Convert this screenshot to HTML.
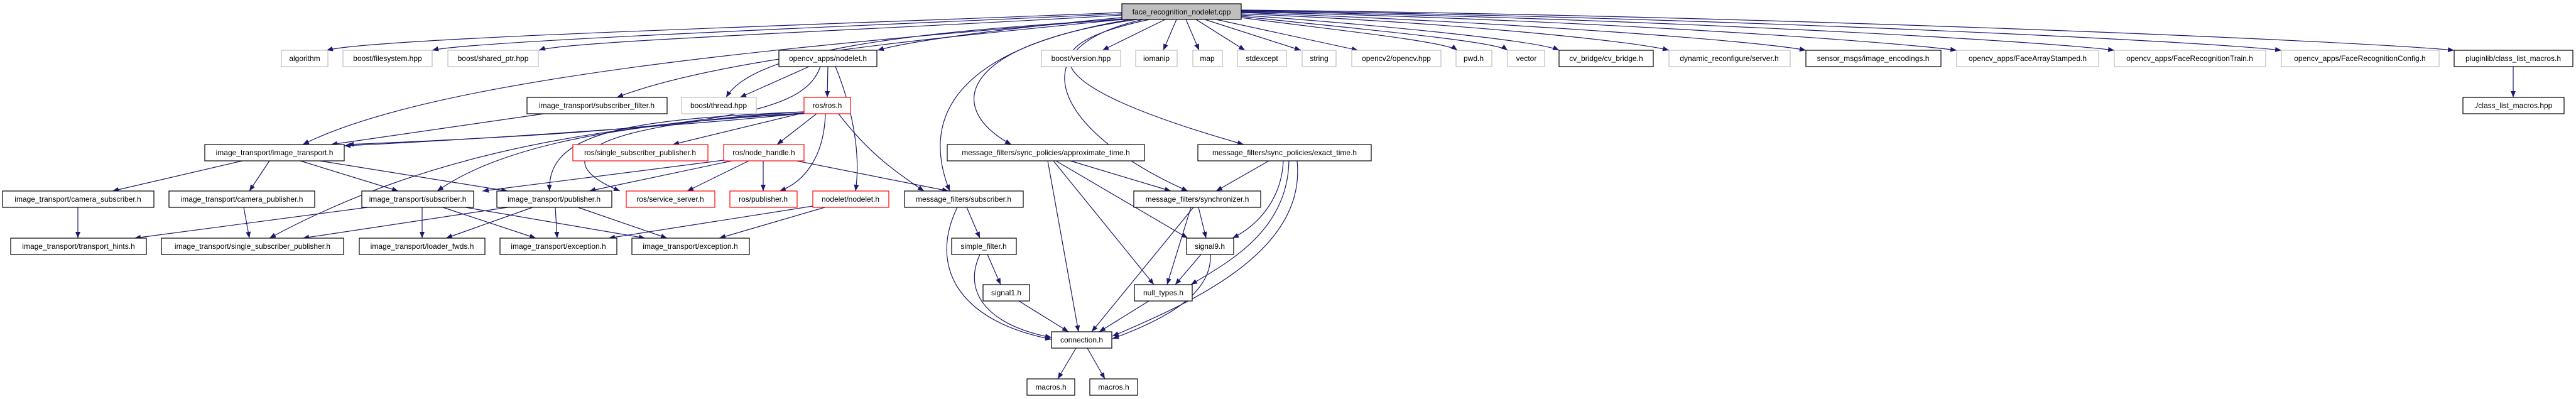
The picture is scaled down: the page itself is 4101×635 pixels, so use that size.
<!DOCTYPE html>
<html><head><meta charset="utf-8"><style>
html,body{margin:0;padding:0;background:#fff;width:4101px;height:635px;overflow:hidden}
svg text{font-family:"Liberation Sans",sans-serif;font-size:12px;text-anchor:middle;fill:#000}
.e{fill:none;stroke:#191970;stroke-width:1.2}
.n{fill:#fff;stroke:#000;stroke-width:1.2}
.g{fill:#fff;stroke:#bfbfbf;stroke-width:1.2}
.r{fill:#fff;stroke:#ff0000;stroke-width:1.2}
</style></head><body>
<svg width="4101" height="635" xmlns="http://www.w3.org/2000/svg">
<defs><marker id="a" markerUnits="userSpaceOnUse" markerWidth="10" markerHeight="8" refX="10" refY="4" orient="auto"><path d="M0,0 L10,4 L0,8 z" fill="#191970"/></marker></defs>
<g class="e" marker-end="url(#a)">
<path d="M1786,20 C1300,40 600,60 520,80"/>
<path d="M1786,22 C1400,40 750,65 688,80"/>
<path d="M1786,24 C1450,45 900,65 858,80"/>
<path d="M1786,28 C1600,45 1450,65 1397,80"/>
<path d="M1786,30 C1300,70 700,120 482,230"/>
<path d="M1786,31 C1500,60 1150,90 982,155"/>
<path d="M1790,31 C1450,50 1200,80 1156,155"/>
<path d="M1800,31 C1500,80 1470,200 1512,304"/>
<path d="M1810,31 C1530,70 1500,170 1610,230"/>
<path d="M1820,31 C1600,80 1700,220 1891,304"/>
<path d="M1830,31 C1600,80 1700,150 1980,230"/>
<path d="M1855,31 L1755,80"/>
<path d="M1873,31 L1852,80"/>
<path d="M1888,31 L1909,80"/>
<path d="M1904,31 L1982,80"/>
<path d="M1918,31 L2071,80"/>
<path d="M1936,31 L2162,80"/>
<path d="M1976,28 C2100,45 2300,65 2320,80"/>
<path d="M1976,26 C2150,45 2380,65 2400,80"/>
<path d="M1976,24 C2200,40 2450,65 2482,80"/>
<path d="M1976,22 C2300,35 2600,65 2657,80"/>
<path d="M1976,20 C2400,35 2800,65 2875,80"/>
<path d="M1976,19 C2500,30 3000,65 3115,80"/>
<path d="M1976,18 C2600,28 3250,65 3366,80"/>
<path d="M1976,17 C2700,26 3500,65 3632,80"/>
<path d="M1976,16 C2800,24 3750,65 3907,80"/>
<path d="M1288,106 L1178,155"/>
<path d="M1318,106 L1317,155"/>
<path d="M1330,106 C1360,180 1370,250 1362,304"/>
<path d="M1306,106 C1280,180 1150,205 553,230"/>
<path d="M1277,180 L1071,230"/>
<path d="M1300,181 L1237,230"/>
<path d="M1314,181 C1312,250 1280,290 1241,304"/>
<path d="M1280,178 C900,200 880,260 987,304"/>
<path d="M1280,178 C1000,190 870,210 875,304"/>
<path d="M1280,180 C1000,195 800,230 696,304"/>
<path d="M1280,180 C1100,200 700,225 548,232"/>
<path d="M1280,181 C900,200 650,260 429,379"/>
<path d="M1335,181 C1380,240 1420,270 1471,304"/>
<path d="M1152,255 L768,304"/>
<path d="M1165,256 L938,304"/>
<path d="M1192,256 L1094,304"/>
<path d="M1215,256 L1215,304"/>
<path d="M1268,256 L1510,304"/>
<path d="M866,181 L527,230"/>
<path d="M386,256 L179,304"/>
<path d="M429,256 L397,304"/>
<path d="M478,256 L634,304"/>
<path d="M509,256 L808,304"/>
<path d="M124,330 L124,379"/>
<path d="M388,330 L397,379"/>
<path d="M585,330 L214,379"/>
<path d="M672,330 L672,379"/>
<path d="M705,330 L853,379"/>
<path d="M741,330 L1027,379"/>
<path d="M808,330 L482,379"/>
<path d="M848,330 L710,379"/>
<path d="M884,330 L887,379"/>
<path d="M920,330 L1062,379"/>
<path d="M1294,328 L969,379"/>
<path d="M1313,330 L1145,379"/>
<path d="M1539,330 L1560,379"/>
<path d="M1524,330 C1480,420 1520,510 1674,540"/>
<path d="M1572,405 L1593,453"/>
<path d="M1560,405 C1530,470 1580,520 1674,537"/>
<path d="M1622,479 L1701,528"/>
<path d="M1704,256 L1864,304"/>
<path d="M1668,256 L1717,528"/>
<path d="M1677,256 L1837,453"/>
<path d="M1681,256 L1891,379"/>
<path d="M2020,256 L1936,304"/>
<path d="M2043,256 C2040,320 2000,360 1962,379"/>
<path d="M2052,256 C2050,370 1950,420 1896,453"/>
<path d="M2065,256 C2080,400 1900,480 1771,535"/>
<path d="M1908,330 L1920,379"/>
<path d="M1896,330 L1858,453"/>
<path d="M1900,330 L1738,528"/>
<path d="M1912,405 L1871,453"/>
<path d="M1927,405 C1930,470 1850,510 1771,539"/>
<path d="M1829,479 L1750,528"/>
<path d="M1713,554 L1684,603"/>
<path d="M1731,554 L1759,603"/>
<path d="M4001,106 L4001,155"/>
</g>
<rect x="1786" y="6" width="190" height="25" fill="#bfbfbf" stroke="#000" stroke-width="1.2"/><text x="1881" y="23">face_recognition_nodelet.cpp</text>
<rect class="g" x="448" y="80" width="74" height="26"/><text x="485" y="97">algorithm</text>
<rect class="g" x="546" y="80" width="142" height="26"/><text x="617" y="97">boost/filesystem.hpp</text>
<rect class="g" x="713" y="80" width="144" height="26"/><text x="785" y="97">boost/shared_ptr.hpp</text>
<rect class="n" x="1240" y="80" width="156" height="26"/><text x="1318" y="97">opencv_apps/nodelet.h</text>
<rect class="g" x="1658" y="80" width="126" height="26"/><text x="1721" y="97">boost/version.hpp</text>
<rect class="g" x="1808" y="80" width="66" height="26"/><text x="1841" y="97">iomanip</text>
<rect class="g" x="1899" y="80" width="47" height="26"/><text x="1922" y="97">map</text>
<rect class="g" x="1970" y="80" width="78" height="26"/><text x="2009" y="97">stdexcept</text>
<rect class="g" x="2073" y="80" width="54" height="26"/><text x="2100" y="97">string</text>
<rect class="g" x="2152" y="80" width="142" height="26"/><text x="2223" y="97">opencv2/opencv.hpp</text>
<rect class="g" x="2318" y="80" width="57" height="26"/><text x="2346" y="97">pwd.h</text>
<rect class="g" x="2400" y="80" width="59" height="26"/><text x="2430" y="97">vector</text>
<rect class="n" x="2482" y="80" width="150" height="26"/><text x="2557" y="97">cv_bridge/cv_bridge.h</text>
<rect class="g" x="2657" y="80" width="193" height="26"/><text x="2753" y="97">dynamic_reconfigure/server.h</text>
<rect class="n" x="2875" y="80" width="215" height="26"/><text x="2982" y="97">sensor_msgs/image_encodings.h</text>
<rect class="g" x="3115" y="80" width="226" height="26"/><text x="3228" y="97">opencv_apps/FaceArrayStamped.h</text>
<rect class="g" x="3366" y="80" width="241" height="26"/><text x="3486" y="97">opencv_apps/FaceRecognitionTrain.h</text>
<rect class="g" x="3632" y="80" width="251" height="26"/><text x="3757" y="97">opencv_apps/FaceRecognitionConfig.h</text>
<rect class="n" x="3907" y="80" width="189" height="26"/><text x="4001" y="97">pluginlib/class_list_macros.h</text>
<rect class="n" x="839" y="155" width="223" height="26"/><text x="950" y="172">image_transport/subscriber_filter.h</text>
<rect class="g" x="1085" y="155" width="119" height="26"/><text x="1144" y="172">boost/thread.hpp</text>
<rect class="r" x="1280" y="155" width="74" height="26"/><text x="1317" y="172">ros/ros.h</text>
<rect class="n" x="3921" y="155" width="161" height="26"/><text x="4001" y="172">./class_list_macros.hpp</text>
<rect class="n" x="326" y="230" width="222" height="26"/><text x="437" y="247">image_transport/image_transport.h</text>
<rect class="r" x="912" y="230" width="215" height="26"/><text x="1019" y="247">ros/single_subscriber_publisher.h</text>
<rect class="r" x="1152" y="230" width="128" height="26"/><text x="1216" y="247">ros/node_handle.h</text>
<rect class="n" x="1508" y="230" width="314" height="26"/><text x="1665" y="247">message_filters/sync_policies/approximate_time.h</text>
<rect class="n" x="1907" y="230" width="276" height="26"/><text x="2045" y="247">message_filters/sync_policies/exact_time.h</text>
<rect class="n" x="4" y="304" width="241" height="26"/><text x="124" y="321">image_transport/camera_subscriber.h</text>
<rect class="n" x="269" y="304" width="232" height="26"/><text x="385" y="321">image_transport/camera_publisher.h</text>
<rect class="n" x="576" y="304" width="178" height="26"/><text x="665" y="321">image_transport/subscriber.h</text>
<rect class="n" x="791" y="304" width="183" height="26"/><text x="882" y="321">image_transport/publisher.h</text>
<rect class="r" x="997" y="304" width="141" height="26"/><text x="1067" y="321">ros/service_server.h</text>
<rect class="r" x="1162" y="304" width="107" height="26"/><text x="1215" y="321">ros/publisher.h</text>
<rect class="r" x="1294" y="304" width="121" height="26"/><text x="1354" y="321">nodelet/nodelet.h</text>
<rect class="n" x="1440" y="304" width="189" height="26"/><text x="1534" y="321">message_filters/subscriber.h</text>
<rect class="n" x="1805" y="304" width="202" height="26"/><text x="1906" y="321">message_filters/synchronizer.h</text>
<rect class="n" x="17" y="379" width="216" height="26"/><text x="125" y="396">image_transport/transport_hints.h</text>
<rect class="n" x="257" y="379" width="290" height="26"/><text x="402" y="396">image_transport/single_subscriber_publisher.h</text>
<rect class="n" x="572" y="379" width="200" height="26"/><text x="672" y="396">image_transport/loader_fwds.h</text>
<rect class="n" x="796" y="379" width="186" height="26"/><text x="889" y="396">image_transport/exception.h</text>
<rect class="n" x="1006" y="379" width="187" height="26"/><text x="1099" y="396">image_transport/exception.h</text>
<rect class="n" x="1515" y="379" width="103" height="26"/><text x="1566" y="396">simple_filter.h</text>
<rect class="n" x="1889" y="379" width="75" height="26"/><text x="1926" y="396">signal9.h</text>
<rect class="n" x="1565" y="453" width="74" height="26"/><text x="1602" y="470">signal1.h</text>
<rect class="n" x="1806" y="453" width="92" height="26"/><text x="1852" y="470">null_types.h</text>
<rect class="n" x="1674" y="528" width="96" height="26"/><text x="1722" y="545">connection.h</text>
<rect class="n" x="1635" y="603" width="76" height="26"/><text x="1673" y="620">macros.h</text>
<rect class="n" x="1735" y="603" width="76" height="26"/><text x="1773" y="620">macros.h</text>
</svg>
</body></html>
